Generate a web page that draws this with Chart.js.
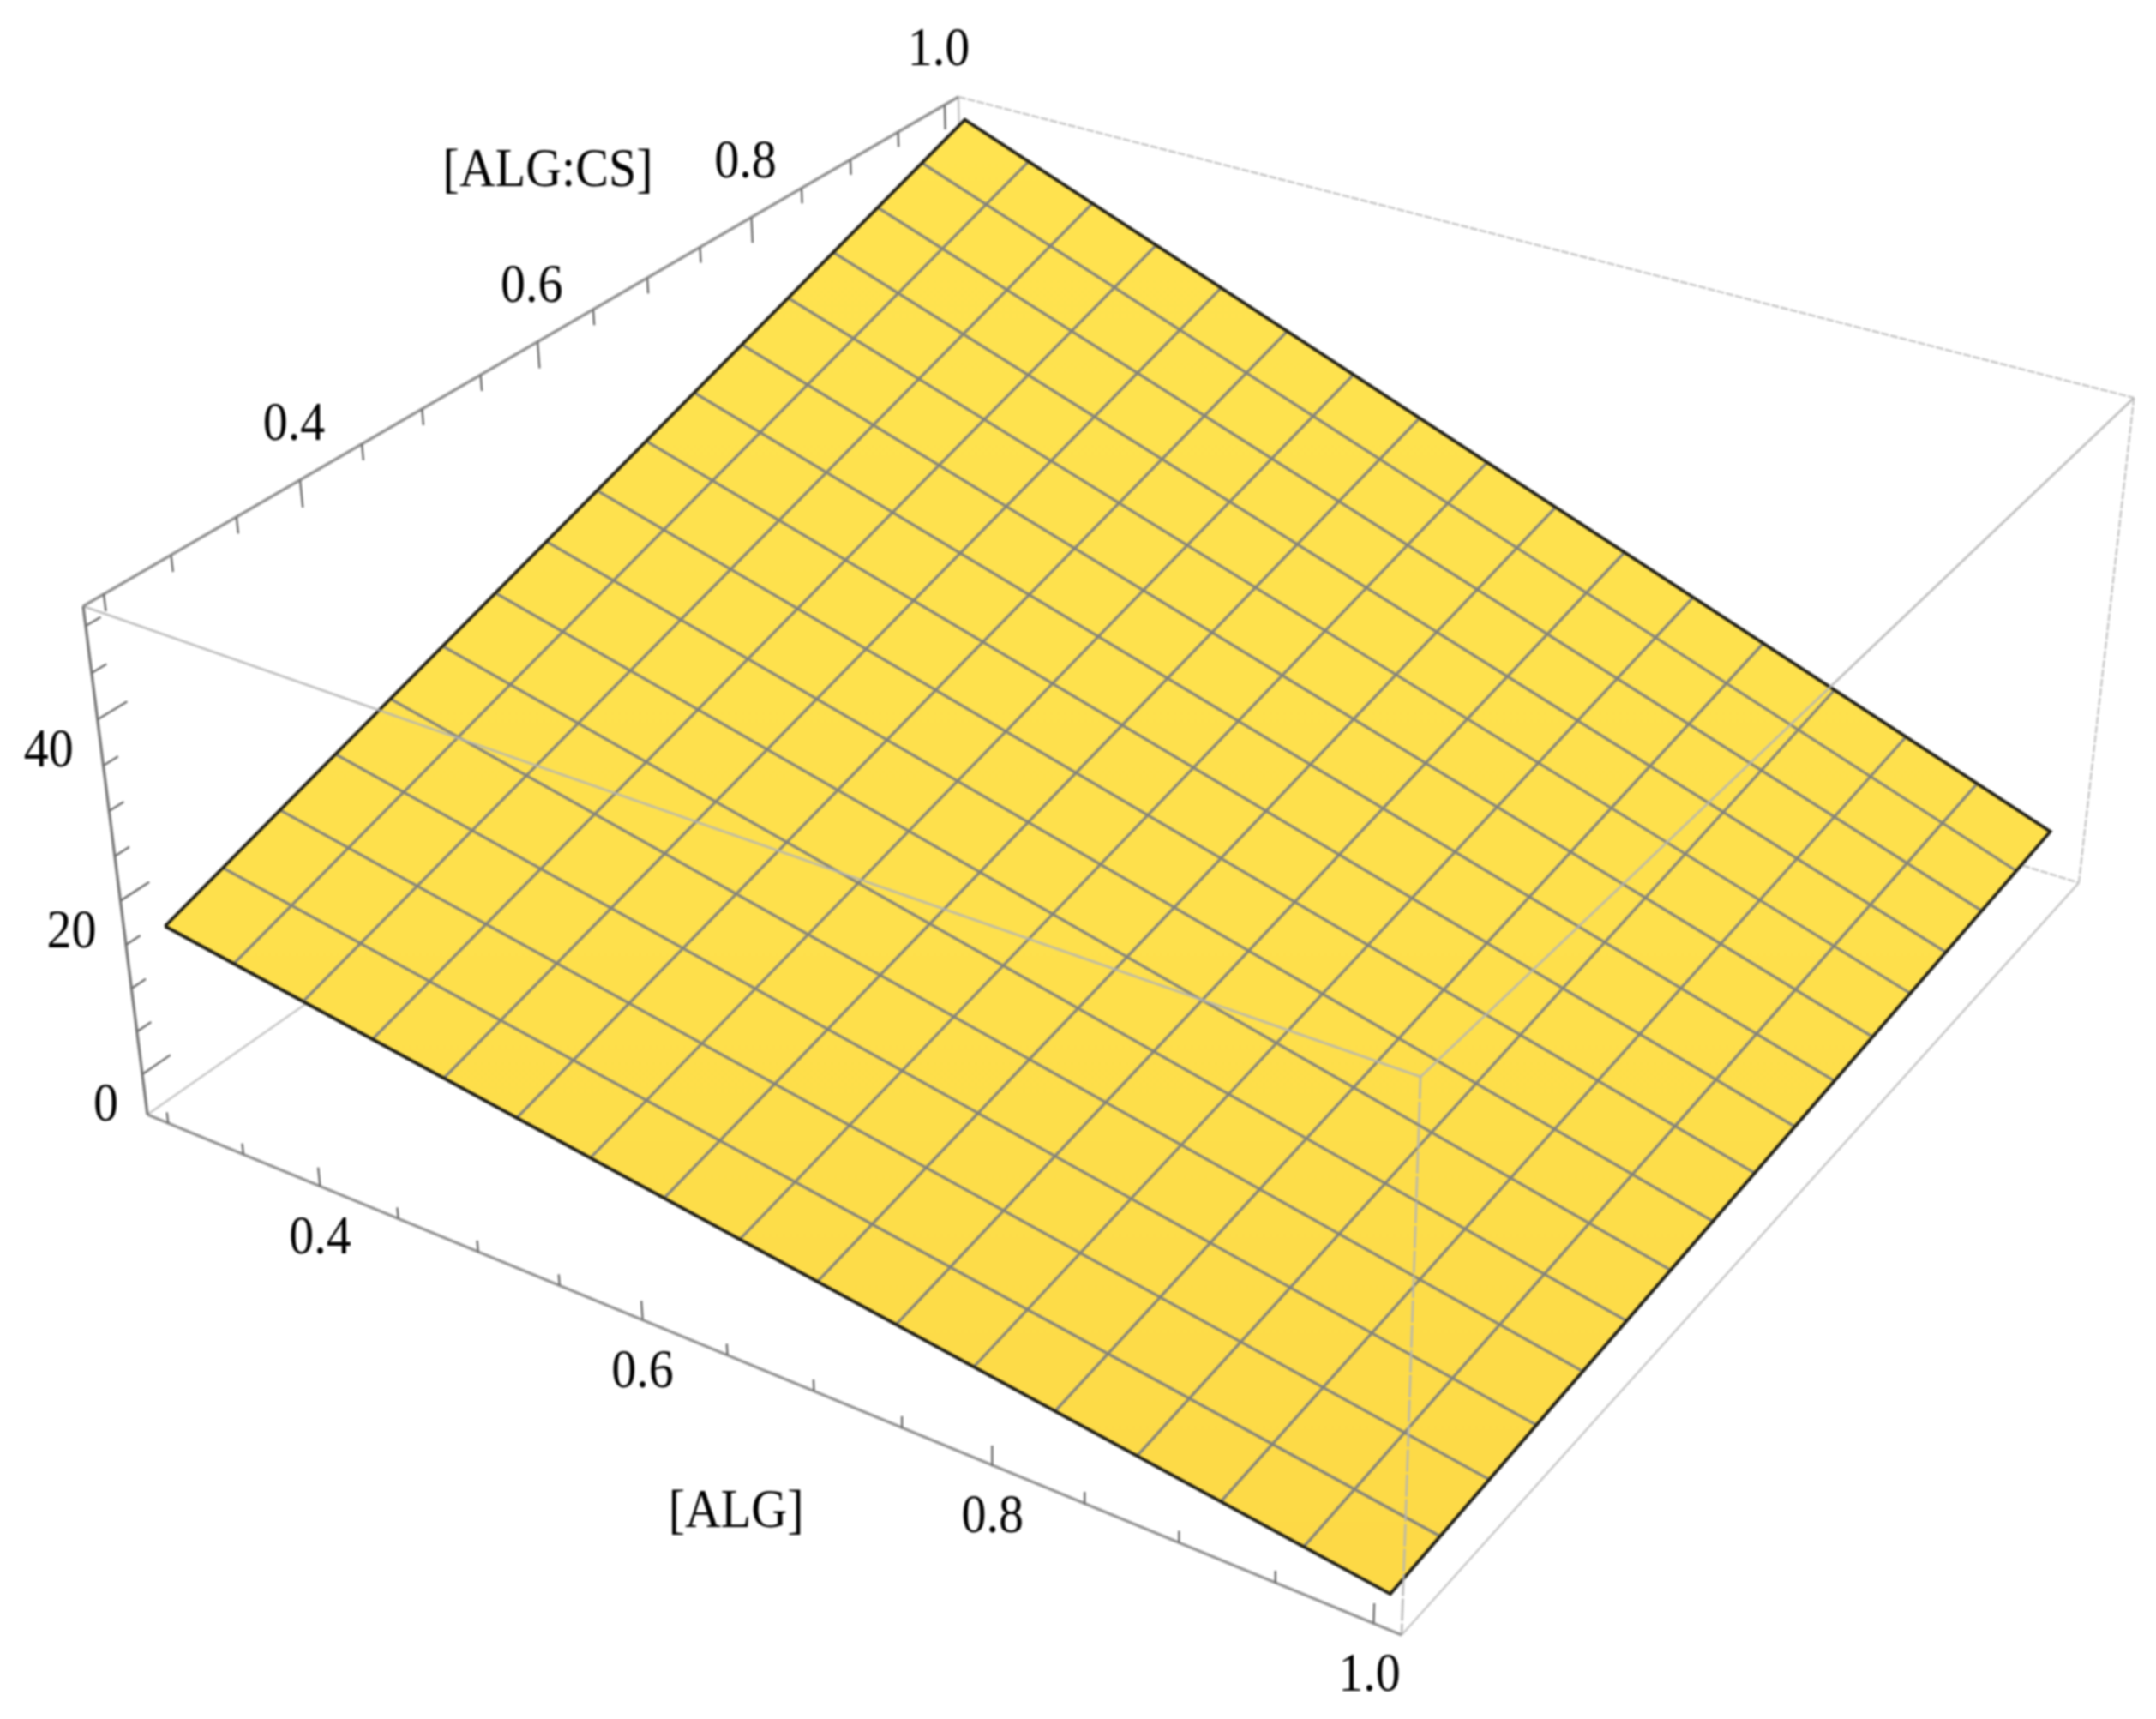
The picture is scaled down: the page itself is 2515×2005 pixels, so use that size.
<!DOCTYPE html>
<html lang="en">
<head>
  <meta charset="UTF-8">
  <title>[ALG] / [ALG:CS] surface</title>
  <script src="https://cdn.jsdelivr.net/npm/chart.js"></script>
  <style>
    body { margin: 0; background: #fff; }
    canvas { display: block; filter: blur(1px); }
  </style>
</head>
<body>
  <canvas id="surface" width="2515" height="2005"></canvas>
  <script>
    // mesh nodes along each axis
    const algNodes = [0.3, 0.344, 0.388, 0.431, 0.475, 0.519, 0.563, 0.606, 0.65, 0.694, 0.738, 0.781, 0.825, 0.869, 0.913, 0.956, 1.0];
    const csNodes = [0.25, 0.297, 0.344, 0.391, 0.438, 0.484, 0.531, 0.578, 0.625, 0.672, 0.719, 0.766, 0.813, 0.859, 0.906, 0.953, 1.0];

    // surface height read along the four edges
    const zAtLowCs = [16.6, 15.3, 14.1, 12.8, 11.6, 10.3, 9.1, 7.8, 6.6, 5.3, 4.0, 2.8, 1.5, 0.3, -1.0, -2.2, -3.5];
    const zAtHighCs = [50.9, 47.8, 44.8, 41.7, 38.7, 35.6, 32.6, 29.5, 26.5, 23.4, 20.4, 17.3, 14.3, 11.2, 8.2, 5.1, 2.05];
    const zAtLowAlg = [16.6, 18.7, 20.9, 23.0, 25.2, 27.3, 29.5, 31.6, 33.8, 35.9, 38.0, 40.2, 42.3, 44.5, 46.6, 48.8, 50.9];
    const zAtHighAlg = [-3.5, -3.2, -2.8, -2.5, -2.1, -1.8, -1.4, -1.1, -0.7, -0.4, 0, 0.3, 0.7, 1.0, 1.4, 1.7, 2.05];

    // axis ticks
    const algTicks = [0.3, 0.35, 0.4, 0.45, 0.5, 0.55, 0.6, 0.65, 0.7, 0.75, 0.8, 0.85, 0.9, 0.95, 1.0];
    const csTicks = [0.25, 0.3, 0.35, 0.4, 0.45, 0.5, 0.55, 0.6, 0.65, 0.7, 0.75, 0.8, 0.85, 0.9, 0.95, 1.0];
    const zTicks = [0, 5, 10, 15, 20, 25, 30, 35, 40, 45, 50];
    const algMajor = [0.4, 0.6, 0.8, 1.0];
    const csMajor = [0.4, 0.6, 0.8, 1.0];
    const zMajor = [0, 20, 40];

    // box limits
    const algRange = [0.286, 1.014];
    const csRange = [0.235, 1.015];
    const zRange = [-4.77, 52.08];

    // view: perspective fitted to the box corners
    function project(alg, cs, z) {
      const u = (alg - algRange[0]) / (algRange[1] - algRange[0]);
      const v = (cs - csRange[0]) / (csRange[1] - csRange[0]);
      const w = (z - zRange[0]) / (zRange[1] - zRange[0]);
      const t = 1 - 0.1399 * u + 0.2143 * v - 0.0602 * w;
      return {
        x: (172 + 1234.3 * u + 1199.1 * v - 80.8 * w) / t,
        y: (1300 + 340.2 * u - 534 * v - 635.6 * w) / t
      };
    }

    const datasets = [];
    function addLine(points, color, width, dash) {
      datasets.push({
        data: points,
        showLine: true,
        borderColor: color,
        borderWidth: width,
        borderDash: dash || [],
        pointRadius: 0,
        fill: false,
        tension: 0,
        order: -datasets.length
      });
    }

    const [a0, a1] = algRange, [c0, c1] = csRange, [z0, z1] = zRange;
    const backLine = "#c6c6c6";
    const overLine = "rgba(180,180,180,0.85)";
    const axisLine = "#929292";
    const tickLine = "#6c6c6c";

    // box edges behind the surface
    addLine([project(a0, c1, z1), project(a1, c1, z1)], backLine, 2.4, [9, 2]);
    addLine([project(a0, c1, z1), project(a0, c1, z0)], backLine, 2.4);
    addLine([project(a0, c0, z0), project(a0, c1, z0)], backLine, 2.4);
    addLine([project(a0, c1, z0), project(a1, c1, z0)], backLine, 2.4, [9, 2]);
    addLine([project(a1, c1, z1), project(a1, c1, z0)], backLine, 2.4, [9, 2]);
    addLine([project(a1, c1, z0), project(a1, c0, z0)], backLine, 2.4);

    // surface fill
    const last = algNodes.length - 1;
    const corners = [
      project(algNodes[0], csNodes[0], zAtLowCs[0]),
      project(algNodes[last], csNodes[0], zAtLowCs[last]),
      project(algNodes[last], csNodes[last], zAtHighCs[last]),
      project(algNodes[0], csNodes[last], zAtHighCs[0])
    ];
    const grad = document.getElementById("surface").getContext("2d").createLinearGradient(0, 140, 0, 1860);
    grad.addColorStop(0, "#ffe350");
    grad.addColorStop(0.55, "#fee04c");
    grad.addColorStop(1, "#fdd946");
    addLine(corners, "rgba(0,0,0,0)", 0);
    datasets[datasets.length - 1].fill = "shape";
    datasets[datasets.length - 1].backgroundColor = grad;

    // mesh
    const meshColor = "#84837c";
    for (let i = 1; i < last; i++) {
      addLine([project(algNodes[i], csNodes[0], zAtLowCs[i]), project(algNodes[i], csNodes[last], zAtHighCs[i])], meshColor, 3.2);
      addLine([project(algNodes[0], csNodes[i], zAtLowAlg[i]), project(algNodes[last], csNodes[i], zAtHighAlg[i])], meshColor, 3.2);
    }

    // surface outline
    addLine([...corners, corners[0]], "#1f1e16", 3.8);

    // box edges in front of the surface
    addLine([project(a0, c0, z1), project(a1, c0, z1)], overLine, 2.8);
    addLine([project(a1, c0, z1), project(a1, c1, z1)], overLine, 2.8);
    addLine([project(a1, c0, z1), project(a1, c0, z0)], overLine, 2.8, [26, 3]);

    // axes
    addLine([project(a0, c0, z0), project(a1, c0, z0)], axisLine, 3.4);
    addLine([project(a0, c0, z1), project(a0, c1, z1)], axisLine, 3.4);
    addLine([project(a0, c0, z0), project(a0, c0, z1)], "#7c7c7c", 3.4);

    // tick marks
    algTicks.forEach(t => {
      addLine([project(t, c0, z0), project(t, c0, z0 + (algMajor.includes(t) ? 2.2 : 1.3))], tickLine, 2.4);
    });
    csTicks.forEach(t => {
      addLine([project(a0, t, z1), project(a0, t, z1 - (csMajor.includes(t) ? 3.0 : 1.8))], tickLine, 2.4);
    });
    zTicks.forEach(t => {
      addLine([project(a0, c0, t), project(a0, c0 + (zMajor.includes(t) ? 0.022 : 0.011), t)], tickLine, 2.4);
    });

    // tick labels and axis titles as text, a little taller than the plain font
    const axisText = {
      id: "axisText",
      afterDatasetsDraw(chart) {
        const ctx = chart.ctx;
        const sx = chart.scales.x, sy = chart.scales.y;
        const put = (p, dx, dy, text, align) => {
          ctx.save();
          ctx.translate(sx.getPixelForValue(p.x) + dx, sy.getPixelForValue(p.y) + dy);
          ctx.scale(1, 1.08);
          ctx.textAlign = align || "center";
          ctx.fillText(text, 0, 0);
          ctx.restore();
        };
        ctx.save();
        ctx.font = "58px 'Liberation Serif'";
        ctx.fillStyle = "#000";
        ctx.textBaseline = "middle";
        algMajor.forEach(t => put(project(t, c0, z0), t === 1 ? -5 : 0, 62, t.toFixed(1)));
        csMajor.forEach(t => put(project(a0, t, z1), -7, -63, t.toFixed(1)));
        zMajor.forEach(t => put(project(a0, c0, t), -28, 38, String(t), "right"));
        put(project(0.64, c0, z0), 30, 192, "[ALG]");
        put(project(a0, 0.7, z1), -116, -124, "[ALG:CS]");
        ctx.restore();
      }
    };

    new Chart(document.getElementById("surface"), {
      type: "scatter",
      data: { datasets },
      options: {
        responsive: false,
        animation: false,
        layout: { padding: 0 },
        plugins: { legend: { display: false }, tooltip: { enabled: false } },
        scales: {
          x: { type: "linear", min: 0, max: 2515, display: false },
          y: { type: "linear", min: 0, max: 2005, reverse: true, display: false }
        }
      },
      plugins: [axisText]
    });
  </script>
</body>
</html>
